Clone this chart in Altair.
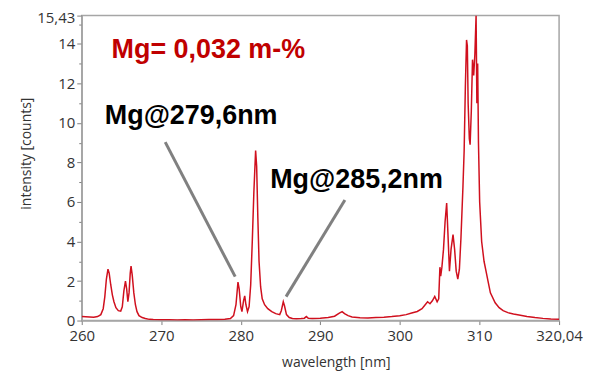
import altair as alt
import pandas as pd

# ---- spectrum ----
wavelength = [
    260.0, 260.5, 261.0, 261.5, 262.0, 262.4, 262.7, 262.9, 263.1, 263.3,
    263.45, 263.65, 263.85, 264.05, 264.3, 264.6, 264.9, 265.1, 265.3, 265.5,
    265.65, 265.8, 265.95, 266.1, 266.2, 266.35, 266.55, 266.75, 266.95, 267.2,
    267.6, 268.0, 268.5, 269.0, 270.0, 271.0, 272.0, 273.0, 274.0, 275.0,
    276.0, 277.0, 278.0, 278.7, 279.1, 279.4, 279.65, 279.8, 280.0, 280.15,
    280.35, 280.5, 280.65, 280.85, 281.05, 281.25, 281.45, 281.65, 281.87, 282.0,
    282.15, 282.3, 282.5, 282.7, 283.0, 283.4, 283.9, 284.4, 284.9, 285.1,
    285.35, 285.5, 285.75, 286.1, 286.5, 287.0, 287.6, 288.0, 288.25, 288.5,
    289.0, 290.0, 291.0, 291.8, 292.4, 292.75, 293.05, 293.5, 294.0, 295.0,
    296.0, 297.0, 298.0, 299.0, 300.0, 300.8, 301.5, 302.2, 302.8, 303.2,
    303.5, 303.8, 304.1, 304.4, 304.7, 304.9, 305.05, 305.15, 305.3, 305.5,
    305.7, 305.9, 306.05, 306.25, 306.45, 306.7, 306.9, 307.1, 307.3, 307.5,
    307.7, 307.95, 308.1, 308.25, 308.4, 308.5, 308.6, 308.75, 308.85, 309.0,
    309.15, 309.3, 309.45, 309.6, 309.7, 309.8, 309.9, 310.05, 310.3, 310.6,
    310.85, 311.1, 311.4, 312.0, 312.5, 313.0, 313.6, 314.3, 315.0, 316.0,
    317.0, 318.0, 319.0, 320.04,
]
intensity = [
    0.20, 0.19, 0.18, 0.17, 0.20, 0.30, 0.60, 1.20, 2.10, 2.60,
    2.40, 1.80, 1.30, 0.95, 0.65, 0.50, 0.48, 0.70, 1.50, 2.00,
    1.60, 0.95, 1.40, 2.40, 2.75, 2.30, 1.40, 0.80, 0.45, 0.25,
    0.15, 0.10, 0.06, 0.05, 0.04, 0.04, 0.03, 0.04, 0.03, 0.04,
    0.05, 0.05, 0.06, 0.10, 0.25, 0.80, 1.95, 1.60, 0.70, 0.45,
    1.00, 1.25, 0.80, 0.45, 0.70, 1.80, 4.00, 6.50, 8.60, 7.80,
    5.20, 3.00, 1.70, 1.10, 0.80, 0.60, 0.45, 0.35, 0.30, 0.50,
    0.95, 0.75, 0.30, 0.15, 0.10, 0.09, 0.10, 0.12, 0.20, 0.11,
    0.10, 0.12, 0.15, 0.22, 0.38, 0.45, 0.35, 0.25, 0.18, 0.14,
    0.13, 0.15, 0.17, 0.20, 0.24, 0.30, 0.38, 0.46, 0.60, 0.80,
    0.95, 0.85, 1.00, 1.22, 0.95, 1.10, 2.70, 2.25, 2.70, 3.60,
    5.00, 5.95, 4.50, 2.50, 3.60, 4.35, 3.60, 2.50, 2.10, 2.60,
    4.20, 6.80, 8.60, 11.80, 14.20, 13.90, 11.00, 9.20, 8.90, 10.60,
    13.20, 12.40, 13.50, 15.43, 11.00, 13.00, 9.00, 6.00, 4.00, 3.00,
    2.50, 2.00, 1.40, 0.90, 0.65, 0.50, 0.40, 0.33, 0.28, 0.20,
    0.15, 0.11, 0.08, 0.06,
]

# ---- axis ticks ----
x_ticks = [260, 270, 280, 290, 300, 310, 320.04]
y_ticks = [0, 1, 2, 3, 4, 5, 6, 7, 8, 9, 10, 11, 12, 13, 14, 15, 15.43]

# ---- annotations ----
ann_text = ["Mg= 0,032 m-%", "Mg@279,6nm", "Mg@285,2nm"]
ann_x = [263.75, 262.9, 283.7]
ann_y = [13.3, 9.93, 6.7]
ann_color = ["#c00000", "#000000", "#000000"]

leader_x1 = [270.5, 293.1]
leader_y1 = [9.03, 6.10]
leader_x2 = [279.3, 285.7]
leader_y2 = [2.22, 1.21]

spec_df = pd.DataFrame({"wl": wavelength, "val": intensity})
ann_df = pd.DataFrame({"wl": ann_x, "val": ann_y, "label": ann_text, "color": ann_color})
lead_df = pd.DataFrame({"wl": leader_x1, "val": leader_y1, "wl2": leader_x2, "val2": leader_y2})

xscale = alt.Scale(domain=[260, 320.04], nice=False, zero=False)
yscale = alt.Scale(domain=[0, 15.43], nice=False, zero=False)

xaxis = alt.Axis(
    values=x_ticks,
    labelExpr="replace(toString(datum.value), '.', ',')",
    labelFlush=False,
    labelOverlap=False,
    tickSize=4,
    labelPadding=4,
    titleX=255,
    titleY=46,
    titleBaseline="alphabetic",
    title="wavelength [nm]",
)
yaxis = alt.Axis(
    values=y_ticks,
    labelExpr="datum.value % 2 == 1 ? '' : replace(toString(datum.value), '.', ',')",
    labelOverlap=False,
    tickSize={"expr": "datum.value % 2 == 1 ? 3 : 5"},
    labelOffset={"expr": "datum.value > 15 ? 2 : 0"},
    labelPadding=2,
    titleX=-55,
    titleY=138,
    titleBaseline="middle",
    title="intensity [counts]",
)

X = alt.X("wl:Q", scale=xscale, axis=xaxis)
Y = alt.Y("val:Q", scale=yscale, axis=yaxis)

line = alt.Chart(spec_df).mark_line(color="#d0101e", strokeWidth=1.5, clip=True).encode(
    x=X, y=Y, order="wl:Q"
)

leaders = alt.Chart(lead_df).mark_rule(color="#808080", strokeWidth=3).encode(
    x=X, y=Y, x2="wl2:Q", y2="val2:Q"
)

texts = alt.Chart(ann_df).mark_text(
    align="left", baseline="alphabetic", font="Liberation Sans",
    fontSize=27, fontWeight="bold"
).encode(
    x=X, y=Y, text="label:N", color=alt.Color("color:N", scale=None)
)

chart = (
    alt.layer(line, leaders, texts)
    .properties(
        width=479,
        height=306,
        autosize=alt.AutoSizeParams(type="none"),
        padding={"left": 74, "top": 7, "right": 25, "bottom": 52},
    )
    .configure_view(stroke="#a6a6a6", strokeWidth=1.5)
    .configure_axis(
        domainColor="#a6a6a6",
        domainWidth=1.5,
        tickColor="#808080",
        grid=False,
        labelFont="Open Sans",
        labelFontSize=15,
        labelColor="#333333",
        titleFont="Open Sans",
        titleFontSize=14,
        titleFontWeight="normal",
        titleColor="#333333",
    )
)

chart.save("out.html", embed_options={"renderer": "svg", "actions": False})
